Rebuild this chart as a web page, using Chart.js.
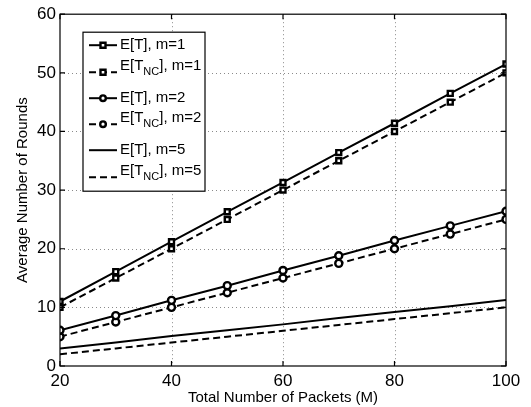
<!DOCTYPE html>
<html>
<head>
<meta charset="utf-8">
<script src="https://cdn.jsdelivr.net/npm/chart.js@4.4.1/dist/chart.umd.min.js"></script>
<style>
  html, body { margin: 0; padding: 0; background: #fff; }
  #wrap { width: 531px; height: 407px; }
</style>
</head>
<body>
<div id="wrap"><canvas id="chart" width="531" height="407"></canvas></div>
<script>
// Datos
const packets = [20, 30, 40, 50, 60, 70, 80, 90, 100];
const rondasM1 = [11.0, 16.1, 21.2, 26.3, 31.3, 36.4, 41.4, 46.5, 51.5];
const rondasNcM1 = [10, 15, 20, 25, 30, 35, 40, 45, 50];
const rondasM2 = [6.1, 8.6, 11.2, 13.7, 16.3, 18.8, 21.4, 23.9, 26.4];
const rondasNcM2 = [5, 7.5, 10, 12.5, 15, 17.5, 20, 22.5, 25];
const rondasM5 = [3.0, 4.0, 5.1, 6.1, 7.1, 8.2, 9.2, 10.2, 11.25];
const rondasNcM5 = [2, 3, 4, 5, 6, 7, 8, 9, 10];
const etiquetas = ["E[T], m=1", "E[T_NC], m=1", "E[T], m=2", "E[T_NC], m=2", "E[T], m=5", "E[T_NC], m=5"];
const xTicks = [20, 40, 60, 80, 100];
const yTicks = [0, 10, 20, 30, 40, 50, 60];

const FONT = "'Liberation Sans', Arial, Helvetica, sans-serif";

function serie(label, valores, dashed, estilo) {
  return {
    label: label,
    data: packets.map((x, i) => ({ x: x, y: valores[i] })),
    borderColor: "#000",
    backgroundColor: "#fff",
    borderWidth: 2,
    borderDash: dashed ? [7, 4] : [],
    pointStyle: estilo || "circle",
    pointRadius: estilo ? 3.5 : 0,
    pointBorderWidth: 2.4,
    pointBorderColor: "#000",
    pointBackgroundColor: "#fff",
    fill: false,
    tension: 0,
  };
}

// Rejilla punteada, ticks hacia adentro y caja completa
const marcoPlugin = {
  id: "marco",
  beforeDatasetsDraw(chart) {
    const { ctx, chartArea: a, scales } = chart;
    ctx.save();
    ctx.strokeStyle = "#8a8a8a";
    ctx.lineWidth = 1;
    ctx.setLineDash([1, 3]);
    ctx.beginPath();
    xTicks.slice(1, -1).forEach((v) => {
      const px = Math.round(scales.x.getPixelForValue(v)) + 0.5;
      ctx.moveTo(px, a.top); ctx.lineTo(px, a.bottom);
    });
    yTicks.slice(1, -1).forEach((v) => {
      const py = Math.round(scales.y.getPixelForValue(v)) + 0.5;
      ctx.moveTo(a.left, py); ctx.lineTo(a.right, py);
    });
    ctx.stroke();
    ctx.restore();
  },
  afterDatasetsDraw(chart) {
    const { ctx, chartArea: a, scales } = chart;
    ctx.save();
    ctx.strokeStyle = "#000";
    ctx.lineWidth = 1.2;
    ctx.strokeRect(a.left, a.top, a.right - a.left, a.bottom - a.top);
    ctx.beginPath();
    xTicks.forEach((v) => {
      const px = scales.x.getPixelForValue(v);
      ctx.moveTo(px, a.bottom); ctx.lineTo(px, a.bottom - 5);
      ctx.moveTo(px, a.top); ctx.lineTo(px, a.top + 5);
    });
    yTicks.forEach((v) => {
      const py = scales.y.getPixelForValue(v);
      ctx.moveTo(a.left, py); ctx.lineTo(a.left + 5, py);
      ctx.moveTo(a.right, py); ctx.lineTo(a.right - 5, py);
    });
    ctx.stroke();
    ctx.restore();
  },
};

// Leyenda con subíndice "NC"
const leyendaPlugin = {
  id: "leyenda",
  afterDraw(chart) {
    const { ctx, chartArea: a } = chart;
    const bx = a.left + 23, by = a.top + 18, bw = 122, bh = 159;
    const filas = [13, 40, 66, 92, 118, 145]; // centro de la línea de muestra
    ctx.save();
    ctx.fillStyle = "#fff";
    ctx.fillRect(bx, by, bw, bh);
    ctx.strokeStyle = "#000";
    ctx.lineWidth = 1.2;
    ctx.strokeRect(bx, by, bw, bh);
    chart.data.datasets.forEach((ds, i) => {
      const y = by + filas[i];
      const x0 = bx + 6, x1 = bx + 34;
      ctx.strokeStyle = "#000";
      ctx.lineWidth = 2;
      ctx.setLineDash(ds.borderDash);
      ctx.beginPath();
      ctx.moveTo(x0, y); ctx.lineTo(x1, y);
      ctx.stroke();
      ctx.setLineDash([]);
      if (ds.pointRadius > 0) {
        const cx = (x0 + x1) / 2;
        ctx.fillStyle = "#fff";
        ctx.lineWidth = 2.4;
        ctx.beginPath();
        if (ds.pointStyle === "rect") {
          ctx.rect(cx - 2.5, y - 2.5, 5, 5);
        } else {
          ctx.arc(cx, y, 2.8, 0, Math.PI * 2);
        }
        ctx.fill();
        ctx.stroke();
      }
      // texto
      ctx.fillStyle = "#000";
      ctx.textBaseline = "middle";
      ctx.textAlign = "left";
      let tx = bx + 37;
      const partes = ds.label.split("_NC");
      if (partes.length === 2) {
        const ty = y - 6;
        ctx.font = "15px " + FONT;
        ctx.fillText(partes[0], tx, ty);
        tx += ctx.measureText(partes[0]).width;
        ctx.font = "11px " + FONT;
        ctx.fillText("NC", tx, ty + 6);
        tx += ctx.measureText("NC").width;
        ctx.font = "15px " + FONT;
        ctx.fillText(partes[1], tx, ty);
      } else {
        ctx.font = "15px " + FONT;
        ctx.fillText(ds.label, tx, y);
      }
    });
    ctx.restore();
  },
};

new Chart(document.getElementById("chart"), {
  type: "line",
  data: {
    datasets: [
      serie(etiquetas[0], rondasM1, false, "rect"),
      serie(etiquetas[1], rondasNcM1, true, "rect"),
      serie(etiquetas[2], rondasM2, false, "circle"),
      serie(etiquetas[3], rondasNcM2, true, "circle"),
      serie(etiquetas[4], rondasM5, false, null),
      serie(etiquetas[5], rondasNcM5, true, null),
    ],
  },
  options: {
    responsive: false,
    animation: false,
    devicePixelRatio: 1,
    layout: { padding: { top: 10, right: 25, left: 0, bottom: 0 } },
    plugins: { legend: { display: false }, tooltip: { enabled: false } },
    scales: {
      x: {
        type: "linear",
        min: 20,
        max: 100,
        afterBuildTicks: (s) => { s.ticks = xTicks.map((v) => ({ value: v })); },
        afterFit: (s) => { s.height = 41; },
        ticks: { color: "#000", font: { family: FONT, size: 17 }, padding: 5, maxRotation: 0 },
        grid: { display: false, drawTicks: false },
        border: { display: false },
        title: { display: true, text: "Total Number of Packets (M)", color: "#000", font: { family: FONT, size: 15 }, padding: { top: -3, bottom: 0 } },
      },
      y: {
        min: 0,
        max: 60,
        afterBuildTicks: (s) => { s.ticks = yTicks.map((v) => ({ value: v })); },
        afterFit: (s) => { s.width = 60; },
        ticks: { color: "#000", font: { family: FONT, size: 17 }, padding: 4 },
        grid: { display: false, drawTicks: false },
        border: { display: false },
        title: { display: true, text: "Average Number of Rounds", color: "#000", font: { family: FONT, size: 15 }, padding: { top: 14, bottom: 0 } },
      },
    },
  },
  plugins: [marcoPlugin, leyendaPlugin],
});
</script>
</body>
</html>
